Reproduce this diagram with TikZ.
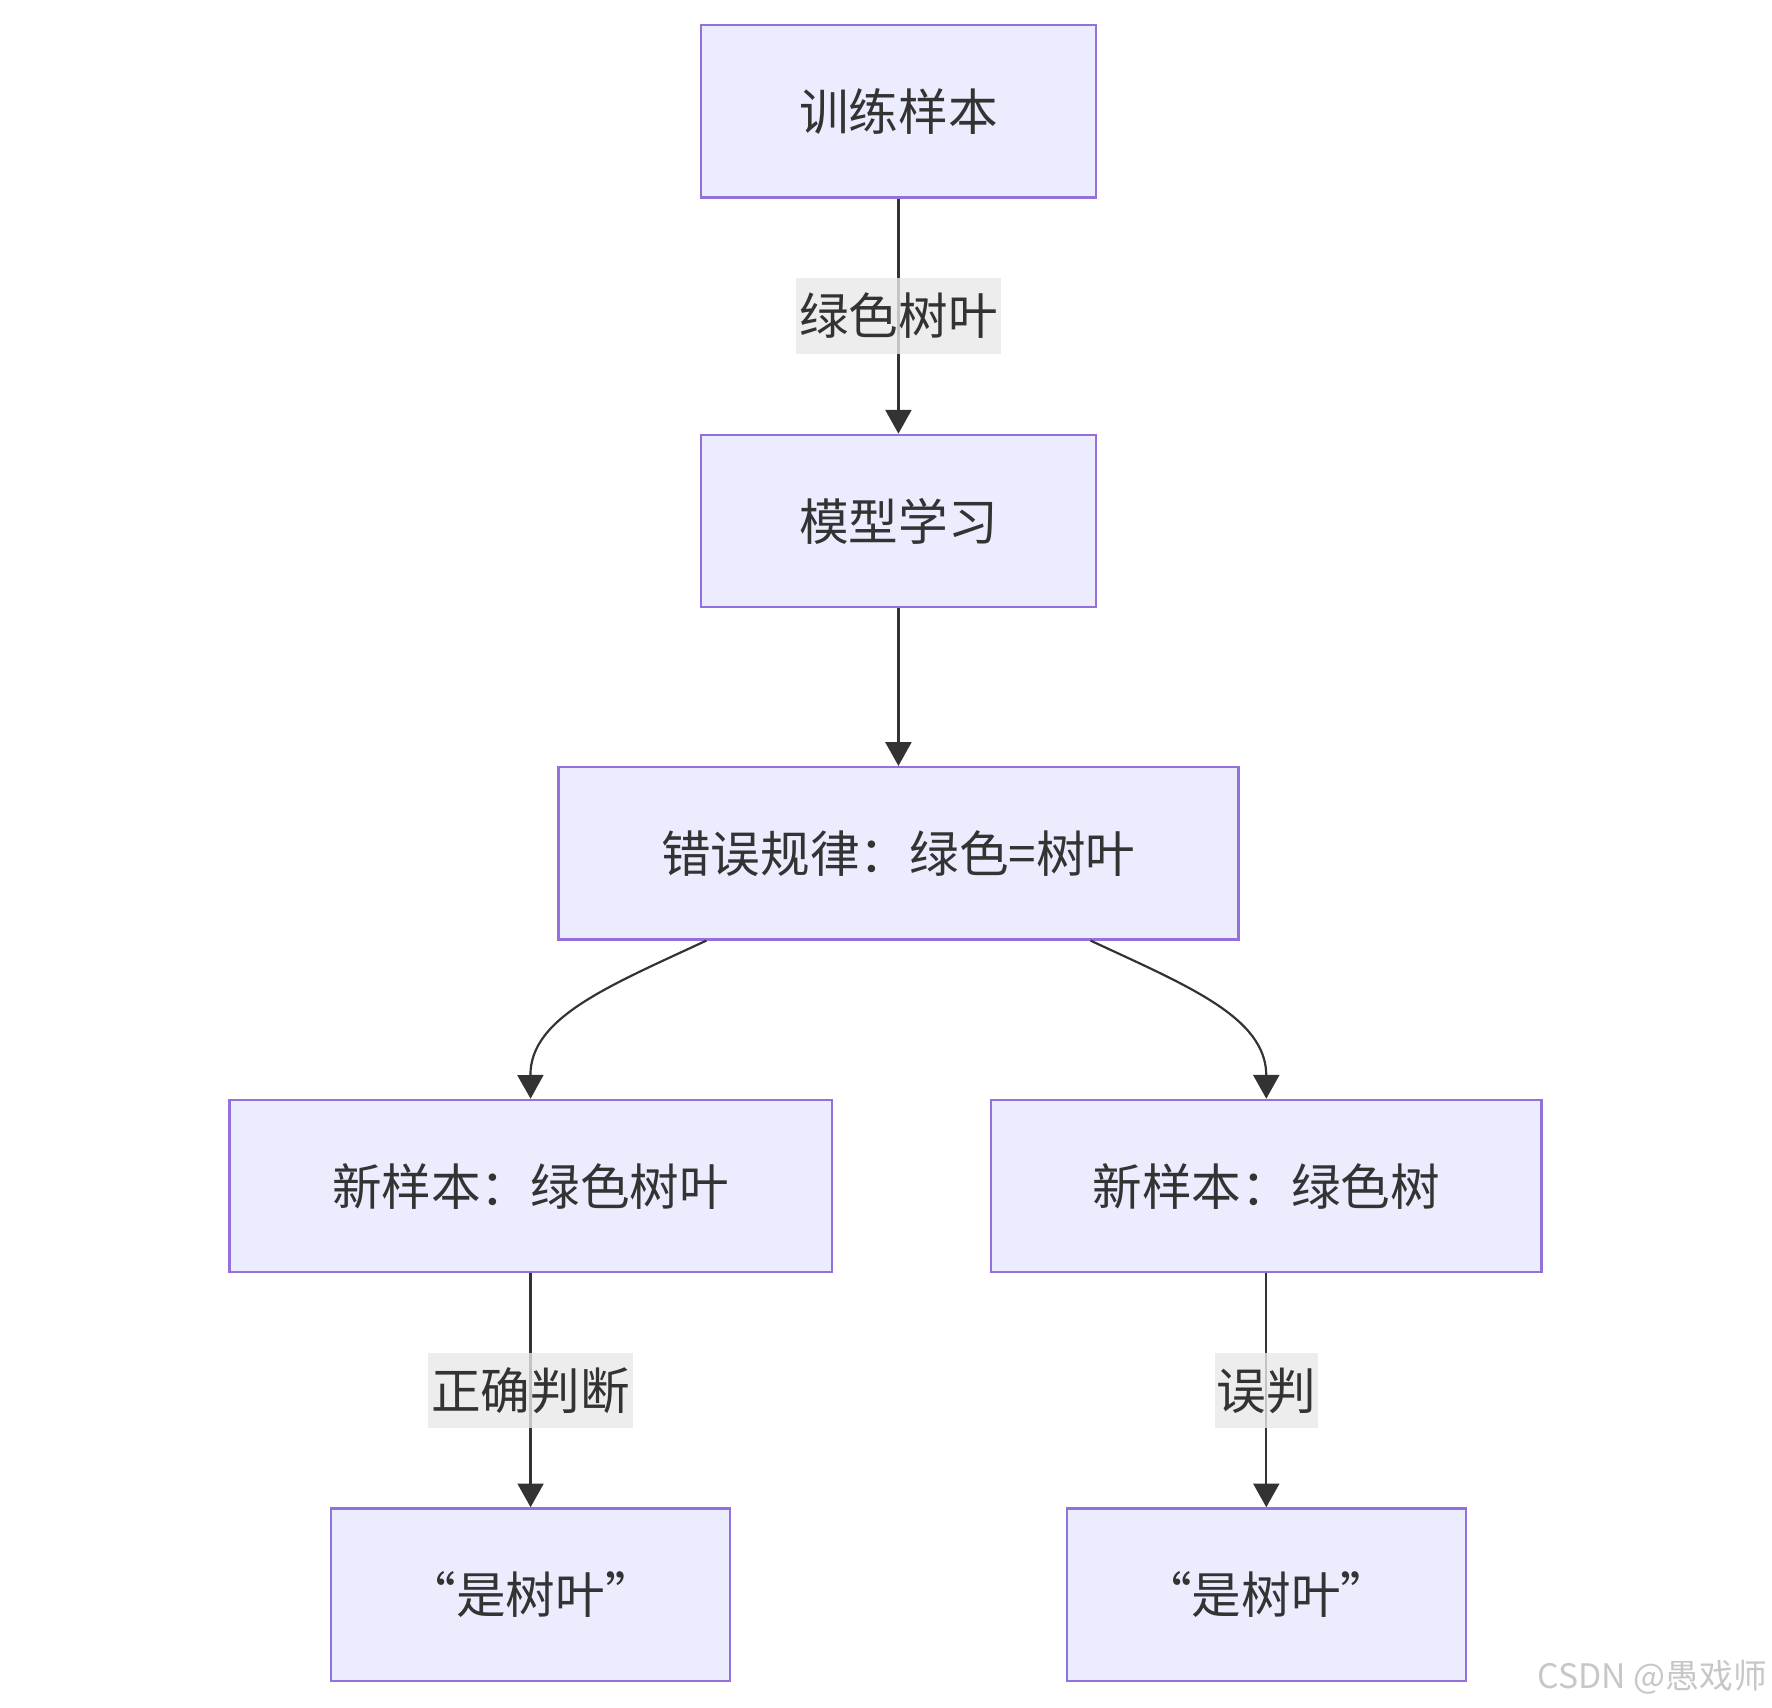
\documentclass[tikz,border=0pt]{standalone}
\usepackage{fontspec}
\setmainfont{Noto Sans CJK SC}
\usepackage{tikz}
\usetikzlibrary{arrows.meta}

\definecolor{boxfill}{HTML}{ECECFF}
\definecolor{boxline}{HTML}{9370DB}
\definecolor{ink}{HTML}{333333}
\definecolor{labelbg}{HTML}{E8E8E8}

\tikzset{
  box/.style={draw=boxline, fill=boxfill, line width=1.2pt, text=ink,
    minimum height=3.05cm, font=\fontsize{25}{30}\selectfont},
  edgelabel/.style={fill=labelbg, fill opacity=0.8, text opacity=1, text=ink,
    minimum height=1.34cm, inner xsep=0pt, font=\fontsize{25}{30}\selectfont},
  link/.style={draw=ink, line width=1.1pt,
    -{Triangle[length=0.42cm,width=0.46cm]}}
}

\begin{document}
\begin{tikzpicture}[x=0.02cm, y=-0.02cm]
            \useasboundingbox (0, 0) rectangle (1568, 1511);
            \node[box, minimum width=7cm] (train) at (795, 98.5) {训练样本};
            \node[box, minimum width=7cm] (learn) at (795, 461) {模型学习};
            \node[box, minimum width=12.04cm] (rule) at (795, 755) {错误规律：绿色=树叶};
            \node[box, minimum width=10.66cm] (leaf) at (469.5, 1049.5) {新样本：绿色树叶};
            \node[box, minimum width=9.74cm] (tree) at (1120.5, 1049.5) {新样本：绿色树};
            \node[box, minimum width=7.06cm] (yesleft) at (469.5, 1411) {“是树叶”};
            \node[box, minimum width=7.06cm] (yesright) at (1120.5, 1411) {“是树叶”};
            % connectors
            \draw[link] (train) -- (learn);
            \draw[link] (learn) -- (rule);
            \draw[link] (rule.south -| 625, 0) .. controls (540, 872) and (469, 900) .. (leaf.north);
            \draw[link] (rule.south -| 965, 0) .. controls (1050, 872) and (1120.5, 900) .. (tree.north);
            \draw[link] (leaf) -- (yesleft);
            \draw[link] (tree) -- (yesright);
            % labels on the connectors
            \node[edgelabel, minimum width=3.62cm] (green) at (795, 279.5) {绿色树叶};
            \node[edgelabel, minimum width=3.62cm] (right) at (469.5, 1230.5) {正确判断};
            \node[edgelabel, minimum width=1.82cm] (wrong) at (1120.5, 1230.5) {误判};
            % \node at (mark) {watermark};
            \node[text=black!22, font=\fontsize{17}{20}\selectfont] (mark) at (1462, 1484) {CSDN @愚戏师};
        \end{tikzpicture}
\end{document}
